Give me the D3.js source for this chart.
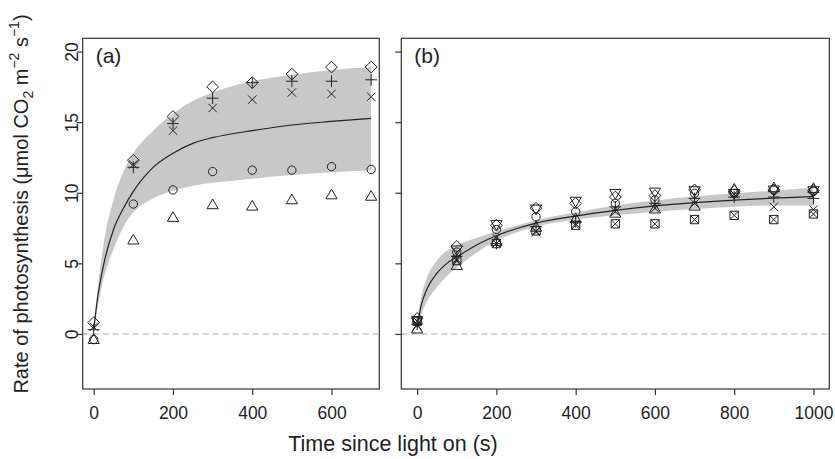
<!DOCTYPE html>
<html>
<head>
<meta charset="utf-8">
<script src="https://cdn.jsdelivr.net/npm/d3@7/dist/d3.min.js"></script>
<style>
  html, body { margin: 0; padding: 0; background: #fff; }
  svg { display: block; }
  text { font-family: "Liberation Sans", Arial, Helvetica, sans-serif; fill: #222; }
</style>
</head>
<body>
<svg id="chart" width="835" height="459"></svg>
<script>
// ---- Panel (a): measurement times (s) and photosynthesis rates per leaf
const timeA = [0, 100, 200, 300, 400, 500, 600, 700];
const aDiamond  = [0.8, 12.3, 15.4, 17.5, 17.8, 18.4, 18.9, 18.9];
const aPlus     = [0.3, 11.8, 14.9, 16.7, 17.8, 17.9, 17.9, 18.0];
const aCross    = [0.5, 12.0, 14.4, 16.0, 16.6, 17.1, 17.0, 16.8];
const aCircle   = [-0.4, 9.2, 10.2, 11.5, 11.6, 11.6, 11.85, 11.65];
const aTriangle = [-0.45, 6.6, 8.2, 9.1, 9.0, 9.45, 9.8, 9.7];

// fitted induction curve and its uncertainty band, panel (a)
const fitTimeA  = [0, 10, 25, 50, 75, 100, 150, 200, 250, 300, 400, 500, 600, 700];
const fitA      = [0.3, 2.6, 4.9, 7.4, 8.9, 10.1, 11.8, 12.8, 13.5, 13.9, 14.4, 14.8, 15.05, 15.27];
const bandUpA   = [0.6, 3.2, 6.4, 9.5, 11.5, 12.8, 14.4, 15.6, 16.5, 17.1, 17.9, 18.35, 18.7, 18.9];
const bandLoA   = [0.1, 1.9, 3.9, 6.0, 7.6, 8.6, 9.6, 10.15, 10.5, 10.7, 11.0, 11.25, 11.45, 11.6];

// ---- Panel (b)
const timeB = [0, 100, 200, 300, 400, 500, 600, 700, 800, 900, 1000];
const bDiamond  = [1.1, 6.2, 7.7, 8.9, 9.25, 9.7, 9.8, 10.2, 10.1, 10.2, 10.15];
const bInvTri   = [1.0, 6.0, 7.8, 8.9, 9.45, 10.0, 10.1, 10.2, 10.0, 10.25, 10.2];
const bCircle   = [0.9, 5.8, 7.4, 8.3, 8.66, 9.25, 9.5, 9.96, 9.96, 10.2, 10.1];
const bPlus     = [0.7, 5.5, 6.4, 7.6, 7.95, 9.0, 9.25, 9.6, 9.7, 9.7, 9.6];
const bCross    = [0.6, 5.3, 6.8, 7.2, 7.8, 8.66, 8.9, 9.25, 9.9, 9.0, 8.8];
const bTriangle = [0.3, 4.8, 6.5, 7.5, 8.1, 8.5, 8.8, 9.0, 10.2, 10.3, 10.25];
const bBoxCross = [0.9, 5.2, 6.4, 7.3, 7.7, 7.8, 7.8, 8.1, 8.4, 8.1, 8.5];

const fitTimeB  = [0, 10, 25, 50, 75, 100, 150, 200, 300, 400, 500, 600, 700, 800, 900, 1000];
const fitB      = [0.5, 2.0, 3.2, 4.3, 5.0, 5.45, 6.3, 6.95, 7.85, 8.35, 8.75, 9.07, 9.3, 9.48, 9.62, 9.73];
const bandUpB   = [0.9, 2.6, 4.0, 5.2, 5.9, 6.3, 6.8, 7.25, 8.05, 8.6, 9.1, 9.45, 9.75, 9.95, 10.15, 10.35];
const bandLoB   = [0.2, 1.3, 2.3, 3.3, 4.1, 4.7, 5.75, 6.6, 7.6, 8.1, 8.4, 8.65, 8.85, 9.0, 9.1, 9.1];

const yTicks  = [0, 5, 10, 15, 20];
const xTicksA = [0, 200, 400, 600];
const xTicksB = [0, 200, 400, 600, 800, 1000];

const svg = d3.select("#chart");
const INK = "#222";
const SHADE = "#c8c8c8";
const S = 11.1; // symbol size

// plotting-symbol outlines centred on (0,0)
function symbolPath(kind) {
  const r = 0.375 * S, d = Math.SQRT2 * r;
  const tr = 1.5551 * r, ty = tr / 2, tx = 1.3468 * r;
  switch (kind) {
    case "circle": return `M${r},0A${r},${r} 0 1,1 ${-r},0A${r},${r} 0 1,1 ${r},0Z`;
    case "triangle": return `M0,${-tr}L${tx},${ty}L${-tx},${ty}Z`;
    case "invtri": return `M0,${tr}L${tx},${-ty}L${-tx},${-ty}Z`;
    case "plus": return `M${-d},0H${d}M0,${-d}V${d}`;
    case "cross": return `M${-r},${-r}L${r},${r}M${-r},${r}L${r},${-r}`;
    case "diamond": return `M0,${-d}L${d},0L0,${d}L${-d},0Z`;
    case "boxcross": return `M${-r},${-r}H${r}V${r}H${-r}ZM${-r},${-r}L${r},${r}M${-r},${r}L${r},${-r}`;
  }
}

const yDomain = [-3.9, 20.94];
const plotTop = 38.3, plotBottom = 389;

function panel(opts) {
  const x = d3.scaleLinear().domain(opts.xDomain).range([opts.left, opts.right]);
  const y = d3.scaleLinear().domain(yDomain).range([plotBottom, plotTop]);
  const g = svg.append("g");

  // uncertainty band
  const band = opts.fitTime.map((t, i) => ({ t, lo: opts.bandLo[i], hi: opts.bandUp[i] }));
  g.append("path")
    .attr("d", d3.area().x(d => x(d.t)).y0(d => y(d.lo)).y1(d => y(d.hi)).curve(d3.curveMonotoneX)(band))
    .attr("fill", SHADE).attr("stroke", "none");

  // zero reference
  g.append("line")
    .attr("x1", opts.left).attr("x2", opts.right)
    .attr("y1", y(0)).attr("y2", y(0))
    .attr("stroke", "#aaa").attr("stroke-width", 1).attr("stroke-dasharray", "6,4");

  // fitted curve
  const fit = opts.fitTime.map((t, i) => ({ t, v: opts.fit[i] }));
  g.append("path")
    .attr("d", d3.line().x(d => x(d.t)).y(d => y(d.v)).curve(d3.curveMonotoneX)(fit))
    .attr("fill", "none").attr("stroke", INK).attr("stroke-width", 1.2);

  // observations
  opts.series.forEach(s => {
    g.append("g").selectAll("path")
      .data(opts.time.map((t, i) => ({ t, v: s.values[i] })))
      .join("path")
      .attr("transform", d => `translate(${x(d.t)},${y(d.v)})`)
      .attr("d", symbolPath(s.kind))
      .attr("fill", "none").attr("stroke", INK).attr("stroke-width", 1);
  });

  // frame
  g.append("rect")
    .attr("x", opts.left).attr("y", plotTop)
    .attr("width", opts.right - opts.left).attr("height", plotBottom - plotTop)
    .attr("fill", "none").attr("stroke", "#333").attr("stroke-width", 1.2);

  // x axis
  const xa = g.append("g").attr("transform", `translate(0,${plotBottom})`)
    .call(d3.axisBottom(x).tickValues(opts.xTicks).tickSize(6).tickPadding(12).tickFormat(d3.format("d")));
  xa.select(".domain").remove();
  xa.selectAll(".tick line").attr("stroke", "#333").attr("stroke-width", 1.2);
  xa.selectAll(".tick text").attr("font-size", 17.5).attr("fill", INK)
    .attr("font-family", "Liberation Sans, Arial, sans-serif");

  // y axis
  const ya = g.append("g").attr("transform", `translate(${opts.left},0)`)
    .call(d3.axisLeft(y).tickValues(yTicks).tickSize(6).tickFormat(opts.yLabels ? d3.format("d") : ""));
  ya.select(".domain").remove();
  ya.selectAll(".tick line").attr("stroke", "#333").attr("stroke-width", 1.2);
  ya.selectAll(".tick text")
    .attr("font-size", 17.5).attr("fill", INK)
    .attr("font-family", "Liberation Sans, Arial, sans-serif")
    .attr("text-anchor", "middle")
    .attr("x", 0).attr("dy", 0)
    .attr("transform", "translate(-5,0) rotate(-90)");

  // panel tag
  g.append("text")
    .attr("x", opts.left + 13).attr("y", 63)
    .attr("font-size", 21).text(opts.tag);
}

panel({
  left: 82.7, right: 379.3, xDomain: [-27.8, 720.6], xTicks: xTicksA, yLabels: true, tag: "(a)",
  time: timeA, fitTime: fitTimeA, fit: fitA, bandUp: bandUpA, bandLo: bandLoA,
  series: [
    { kind: "diamond", values: aDiamond },
    { kind: "plus", values: aPlus },
    { kind: "cross", values: aCross },
    { kind: "circle", values: aCircle },
    { kind: "triangle", values: aTriangle }
  ]
});

panel({
  left: 401.3, right: 829.3, xDomain: [-40, 1040], xTicks: xTicksB, yLabels: false, tag: "(b)",
  time: timeB, fitTime: fitTimeB, fit: fitB, bandUp: bandUpB, bandLo: bandLoB,
  series: [
    { kind: "diamond", values: bDiamond },
    { kind: "invtri", values: bInvTri },
    { kind: "circle", values: bCircle },
    { kind: "plus", values: bPlus },
    { kind: "cross", values: bCross },
    { kind: "triangle", values: bTriangle },
    { kind: "boxcross", values: bBoxCross }
  ]
});

// axis titles
svg.append("text")
  .attr("x", 393).attr("y", 451)
  .attr("text-anchor", "middle").attr("font-size", 21.5)
  .text("Time since light on (s)");

const yt = svg.append("text")
  .attr("transform", "translate(28,204) rotate(-90)")
  .attr("text-anchor", "middle").attr("font-size", 20);
yt.append("tspan").text("Rate of photosynthesis (μmol CO");
yt.append("tspan").attr("font-size", 14).attr("dy", 5).text("2");
yt.append("tspan").attr("dy", -5).text(" m");
yt.append("tspan").attr("font-size", 14).attr("dy", -9).text("−2");
yt.append("tspan").attr("dy", 9).text(" s");
yt.append("tspan").attr("font-size", 14).attr("dy", -9).text("−1");
yt.append("tspan").attr("dy", 9).text(")");
</script>
</body>
</html>
